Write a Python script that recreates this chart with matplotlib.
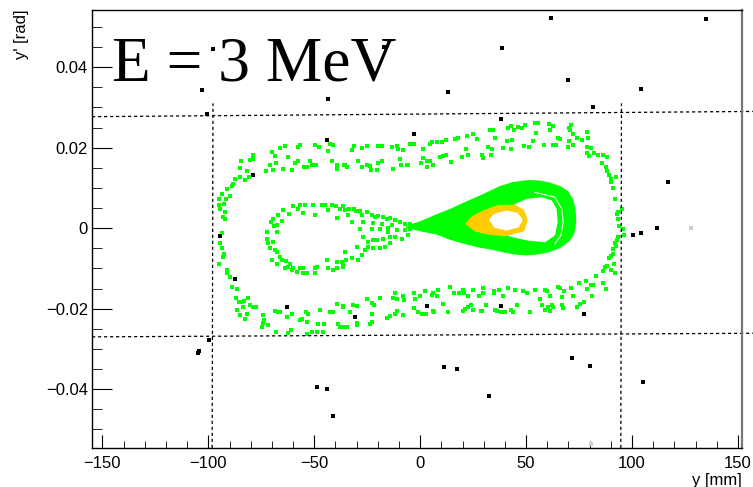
import numpy as np
import matplotlib
matplotlib.use("Agg")
import matplotlib.pyplot as plt

# y [mm], y' [rad]
# sparse green points: outer ring around the separatrix
ring = np.array([
    (-79.0, 0.0183), (-80.3, 0.0170), (-78.7, 0.0172), (-84.6, 0.0166), (-85.0, 0.0149), (-81.9, 0.0141),
    (-80.6, 0.0127), (-82.7, 0.0119), (-85.0, 0.0127), (-87.4, 0.0121), (-88.2, 0.0110), (-89.0, 0.0105),
    (-91.3, 0.0098), (-89.7, 0.0081), (-91.6, 0.0073), (-93.7, 0.0086), (-94.9, 0.0072), (-92.6, 0.0061),
    (-94.5, 0.0048), (-92.1, 0.0040), (-92.9, 0.0028), (-92.1, 0.0022), (-94.8, 0.0057),
    (-66.2, 0.0200), (-63.8, 0.0203), (-70.1, 0.0189), (-68.5, 0.0179), (-62.5, 0.0177), (-70.9, 0.0158),
    (-68.0, 0.0162), (-72.9, 0.0141), (-69.6, 0.0145), (-64.6, 0.0148), (-57.5, 0.0201), (-56.7, 0.0207),
    (-49.6, 0.0207), (-47.6, 0.0201), (-42.6, 0.0210), (-41.0, 0.0207), (-43.3, 0.0191), (-41.8, 0.0167),
    (-39.4, 0.0148), (-39.1, 0.0158), (-52.0, 0.0168), (-51.2, 0.0158), (-49.2, 0.0156), (-54.8, 0.0153),
    (-53.6, 0.0152), (-59.1, 0.0162), (-57.5, 0.0167), (-60.6, 0.0144), (-35.9, 0.0158),
    (-31.2, 0.0204), (-32.3, 0.0193), (-27.6, 0.0200), (-25.3, 0.0203), (-19.8, 0.0204), (-18.2, 0.0204),
    (-13.5, 0.0201), (-11.1, 0.0203), (-10.3, 0.0197), (-8.0, 0.0193), (-4.8, 0.0210), (-2.9, 0.0210),
    (1.5, 0.0196), (4.6, 0.0210), (5.4, 0.0214), (8.1, 0.0214), (10.1, 0.0215), (12.2, 0.0220),
    (16.4, 0.0222), (18.0, 0.0225), (22.2, 0.0228), (25.1, 0.0233), (26.6, 0.0222), (21.6, 0.0196),
    (-35.5, 0.0158), (-34.4, 0.0152), (-29.2, 0.0167), (-27.6, 0.0152), (-25.3, 0.0158), (-23.7, 0.0154),
    (-23.4, 0.0144), (-20.5, 0.0144), (-20.1, 0.0162), (-17.9, 0.0167), (-12.7, 0.0146), (-9.5, 0.0172),
    (-9.1, 0.0158), (-6.4, 0.0158), (-5.6, 0.0158), (0.2, 0.0162), (1.5, 0.0175), (3.4, 0.0168),
    (4.6, 0.0167), (3.0, 0.0153), (5.9, 0.0156), (9.3, 0.0177), (10.9, 0.0179), (12.2, 0.0181),
    (14.5, 0.0164), (19.6, 0.0178), (22.7, 0.0181), (29.0, 0.0183), (29.8, 0.0175),
    (32.9, 0.0245), (34.2, 0.0245), (35.3, 0.0225), (41.6, 0.0249), (42.7, 0.0254), (44.4, 0.0245),
    (46.0, 0.0251), (47.9, 0.0249), (49.7, 0.0257), (54.2, 0.0262), (55.7, 0.0261), (54.6, 0.0237),
    (60.8, 0.0259), (62.8, 0.0254), (61.5, 0.0243), (65.2, 0.0225), (65.9, 0.0222), (70.2, 0.0249),
    (71.0, 0.0257), (70.7, 0.0244), (71.9, 0.0233), (73.8, 0.0225), (76.2, 0.0220), (78.9, 0.0240),
    (79.3, 0.0225),
    (32.1, 0.0201), (33.7, 0.0196), (33.2, 0.0181), (39.2, 0.0199), (41.1, 0.0216), (43.1, 0.0220),
    (42.7, 0.0196), (49.1, 0.0204), (51.5, 0.0201), (53.1, 0.0216), (58.6, 0.0207), (62.5, 0.0207),
    (64.1, 0.0207), (69.6, 0.0201), (70.2, 0.0216), (72.2, 0.0207), (78.9, 0.0201), (80.6, 0.0199),
    (78.5, 0.0187), (79.6, 0.0179), (82.0, 0.0187), (84.0, 0.0183), (86.1, 0.0183), (88.4, 0.0177),
    (85.6, 0.0162), (87.7, 0.0152), (88.4, 0.0141), (89.2, 0.0131), (89.9, 0.0123), (90.3, 0.0115),
    (92.4, 0.0127), (90.8, 0.0101), (91.9, 0.0073), (95.1, 0.0048), (93.5, 0.0040), (93.0, 0.0034),
    (93.5, 0.0022), (94.0, 0.0005), (95.8, -0.0001), (29.0, 0.0181), (29.5, 0.0174),
    (-93.7, -0.0011), (-94.5, -0.0038), (-93.7, -0.0050), (-92.6, -0.0063), (-93.2, -0.0071), (-94.8, -0.0088),
    (-91.3, -0.0104), (-91.0, -0.0112), (-89.7, -0.0121), (-89.0, -0.0146), (-86.6, -0.0151), (-87.1, -0.0173),
    (-85.3, -0.0183), (-84.2, -0.0184), (-83.1, -0.0181), (-81.1, -0.0173), (-80.3, -0.0191), (-78.7, -0.0195),
    (-77.5, -0.0195), (-83.8, -0.0195), (-86.6, -0.0203), (-85.0, -0.0216), (-81.9, -0.0212), (-82.7, -0.0226),
    (-74.0, -0.0216), (-73.7, -0.0228), (-74.0, -0.0236), (-71.6, -0.0241), (-74.8, -0.0245), (-68.5, -0.0206),
    (-66.9, -0.0209), (-66.2, -0.0209), (-62.7, -0.0220), (-60.6, -0.0212), (-56.7, -0.0228), (-55.9, -0.0226),
    (-53.9, -0.0209), (-52.8, -0.0212), (-53.6, -0.0232), (-68.0, -0.0259), (-62.2, -0.0261), (-61.1, -0.0253),
    (-53.6, -0.0264), (-51.2, -0.0259), (-48.8, -0.0259), (-48.1, -0.0239), (-47.3, -0.0203), (-45.4, -0.0239),
    (-45.7, -0.0257), (-42.6, -0.0209), (-41.3, -0.0209), (-39.4, -0.0189), (-36.6, -0.0195), (-38.6, -0.0237),
    (-37.8, -0.0245),
    (-36.6, -0.0193), (-31.6, -0.0191), (-29.7, -0.0193), (-25.0, -0.0176), (-22.9, -0.0187), (-21.8, -0.0191),
    (-19.0, -0.0173), (-12.7, -0.0173), (-11.9, -0.0160), (-10.8, -0.0176), (-8.0, -0.0168), (-7.6, -0.0179),
    (-2.9, -0.0162), (-2.5, -0.0176), (-0.1, -0.0168), (2.3, -0.0156), (5.4, -0.0166), (6.2, -0.0162),
    (8.1, -0.0168), (8.6, -0.0154), (10.9, -0.0189), (14.1, -0.0146), (16.0, -0.0160), (18.5, -0.0162),
    (20.4, -0.0154), (20.7, -0.0160), (22.7, -0.0168), (24.8, -0.0154), (27.9, -0.0168), (29.5, -0.0148),
    (29.5, -0.0162), (-33.1, -0.0209), (-22.9, -0.0212), (-15.8, -0.0222), (-14.3, -0.0217), (-11.9, -0.0212),
    (-10.8, -0.0206), (-8.0, -0.0216), (-2.9, -0.0199), (-0.9, -0.0209), (0.7, -0.0212), (2.7, -0.0212),
    (5.9, -0.0206), (6.5, -0.0209), (13.3, -0.0208), (20.4, -0.0206), (21.1, -0.0201), (22.7, -0.0195),
    (23.8, -0.0191), (25.1, -0.0203), (29.0, -0.0206), (-36.3, -0.0245), (-34.4, -0.0245), (-30.0, -0.0235),
    (-29.7, -0.0241), (-23.7, -0.0237), (-22.9, -0.0232),
    (34.8, -0.0156), (34.8, -0.0162), (37.3, -0.0154), (38.9, -0.0168), (41.6, -0.0148), (44.7, -0.0154),
    (48.6, -0.0156), (50.2, -0.0162), (54.2, -0.0154), (56.5, -0.0176), (58.9, -0.0154), (61.2, -0.0168),
    (59.7, -0.0156), (65.2, -0.0146), (65.9, -0.0148), (66.7, -0.0170), (67.8, -0.0156), (71.0, -0.0148),
    (71.9, -0.0168), (75.1, -0.0137), (78.2, -0.0132), (78.9, -0.0151), (80.4, -0.0140), (81.4, -0.0140),
    (80.9, -0.0168), (82.9, -0.0118), (86.1, -0.0137), (87.7, -0.0150), (86.4, -0.0107), (87.2, -0.0096),
    (88.3, -0.0093), (89.9, -0.0104), (91.9, -0.0112), (91.4, -0.0088), (89.2, -0.0075), (90.3, -0.0069),
    (91.1, -0.0063), (90.8, -0.0052), (92.4, -0.0044), (92.1, -0.0038), (93.0, -0.0030), (93.5, -0.0022),
    (94.0, 0.0006), (96.2, -0.0016),
    (31.0, -0.0191), (35.3, -0.0203), (36.4, -0.0206), (38.0, -0.0209), (40.0, -0.0209), (42.7, -0.0203),
    (43.9, -0.0208), (45.5, -0.0191), (51.8, -0.0209), (57.3, -0.0191), (58.9, -0.0203), (60.4, -0.0195),
    (61.2, -0.0206), (62.0, -0.0191), (62.8, -0.0195), (67.2, -0.0198), (66.7, -0.0191), (73.8, -0.0195),
    (75.4, -0.0189), (77.3, -0.0183), (28.7, -0.0206),
])

# sparse green points: left lobe of the figure eight
lobe = np.array([
    (-69.3, 0.0024), (-66.9, 0.0032), (-70.4, 0.0015), (-65.4, 0.0017), (-67.7, 0.0007), (-64.6, 0.0044),
    (-61.7, 0.0034), (-59.9, 0.0055), (-57.8, 0.0048), (-56.7, 0.0057), (-54.3, 0.0058), (-55.1, 0.0038),
    (-50.4, 0.0058), (-49.6, 0.0032), (-46.5, 0.0057), (-44.9, 0.0057), (-43.3, 0.0044), (-41.8, 0.0057),
    (-39.9, 0.0055), (-39.4, 0.0026), (-37.8, 0.0047), (-36.3, 0.0055),
    (-36.6, 0.0055), (-35.5, 0.0044), (-33.4, 0.0047), (-31.2, 0.0047), (-30.3, 0.0042), (-28.4, 0.0042),
    (-33.9, 0.0032), (-32.3, 0.0015), (-27.6, 0.0032), (-26.8, 0.0015), (-25.3, 0.0039), (-22.9, 0.0032),
    (-21.3, 0.0028), (-19.8, 0.0030), (-22.1, 0.0013), (-17.4, 0.0028), (-15.8, 0.0024), (-14.3, 0.0026),
    (-18.2, 0.0011), (-13.5, 0.0007), (-11.9, 0.0020), (-9.5, 0.0015), (-7.2, 0.0011), (-4.8, 0.0011),
    (-2.5, 0.0007), (-0.1, 0.0009), (-28.4, -0.0001), (-22.9, -0.0001), (-19.0, -0.0001), (-15.0, -0.0001),
    (-72.4, -0.0009), (-69.0, 0.0006), (-67.7, -0.0009), (-72.4, -0.0026), (-71.6, -0.0038), (-69.6, -0.0034),
    (-70.9, -0.0050), (-68.5, -0.0055), (-67.7, -0.0060), (-70.1, -0.0079), (-66.2, -0.0071), (-65.4, -0.0079),
    (-67.4, -0.0090), (-63.3, -0.0082), (-63.8, -0.0100), (-62.2, -0.0096), (-61.4, -0.0090), (-59.9, -0.0100),
    (-60.6, -0.0104), (-58.3, -0.0110), (-56.7, -0.0100), (-55.4, -0.0098), (-55.1, -0.0112), (-53.2, -0.0111),
    (-49.6, -0.0100), (-49.6, -0.0112), (-48.8, -0.0096), (-44.1, -0.0079), (-43.3, -0.0098), (-41.0, -0.0104),
    (-39.4, -0.0098), (-39.1, -0.0085), (-36.3, -0.0092), (-35.0, -0.0079),
    (-28.4, -0.0001), (-19.0, -0.0002), (-15.0, 0.0001), (-27.2, -0.0021), (-24.5, -0.0034), (-22.1, -0.0030),
    (-20.2, -0.0030), (-17.4, -0.0026), (-14.3, -0.0021), (-11.9, -0.0021), (-8.7, -0.0026), (-5.6, -0.0017),
    (-24.5, -0.0046), (-30.0, -0.0046), (-22.1, -0.0050), (-26.1, -0.0055), (-27.6, -0.0067), (-29.2, -0.0079),
    (-32.3, -0.0075), (-35.5, -0.0060), (-37.1, -0.0083), (-36.3, -0.0096), (-19.0, -0.0050), (-16.6, -0.0046),
    (-14.3, -0.0038), (-15.0, -0.0009), (-11.1, -0.0005), (-7.2, -0.0005), (-4.8, -0.0001),
])

# outline of the dense right lobe
dense_lobe = np.array([
    (-6.4, 0.0003), (0.7, 0.0016), (7.8, 0.0032), (14.1, 0.0045), (21.9, 0.0064), (30.6, 0.0084),
    (37.7, 0.0102), (43.8, 0.0112), (50.9, 0.0117), (56.0, 0.0116), (61.0, 0.0111), (66.0, 0.0102),
    (69.5, 0.0090), (71.8, 0.0070), (72.9, 0.0045), (73.2, 0.0015), (72.3, -0.0012), (70.2, -0.0030),
    (66.5, -0.0045), (61.0, -0.0057), (55.0, -0.0063), (50.0, -0.0065), (45.0, -0.0063), (40.8, -0.0059),
    (32.9, -0.0050), (28.2, -0.0046), (21.9, -0.0038), (14.1, -0.0026), (7.8, -0.0013), (-0.1, -0.0005),
])
lobe_hole = np.array([
    (44.7, 0.0060), (50.3, 0.0073), (57.3, 0.0077), (62.1, 0.0069), (64.4, 0.0048), (64.9, 0.0015),
    (63.6, -0.0018), (58.9, -0.0035), (51.0, -0.0031), (43.2, -0.0022), (37.7, -0.0012),
])
gap_arc = np.array([
    (54.2, 0.0089), (63.6, 0.0077), (66.8, 0.0048), (67.5, 0.0015), (66.4, -0.0018), (63.6, -0.0039),
])
# orange core
core = np.array([
    (21.9, 0.0011), (24.4, 0.0027), (29.0, 0.0040), (36.9, 0.0056), (44.7, 0.0056), (48.7, 0.0044),
    (50.3, 0.0019), (48.7, -0.0006), (40.0, -0.0018), (32.1, -0.0014), (25.9, -0.0006),
])
core_hole = np.array([
    (32.5, 0.0021), (35.0, 0.0036), (40.8, 0.0044), (46.0, 0.0038), (48.5, 0.0021), (46.5, 0.0002),
    (40.8, -0.0006), (35.0, 0.0001),
])

# lost particles
lost = np.array([
    (-97.6, 0.0446), (-102.8, 0.0344), (-100.5, 0.0283), (-43.6, 0.0321), (-43.8, 0.0220), (-79.0, 0.0133),
    (-94.5, -0.0020), (-17.0, 0.0451), (61.7, 0.0523), (134.9, 0.0520), (38.7, 0.0448), (69.6, 0.0367),
    (13.3, 0.0338), (104.2, 0.0346), (81.7, 0.0301), (38.1, 0.0272), (-3.0, 0.0234), (116.8, 0.0115),
    (100.3, -0.0017), (104.2, -0.0012), (111.9, 0.0001), (-87.2, -0.0127), (-63.0, -0.0197), (-30.6, -0.0220),
    (-99.5, -0.0278), (-104.4, -0.0305), (-105.0, -0.0309), (-48.8, -0.0394), (-44.1, -0.0399), (-41.0, -0.0466),
    (3.4, -0.0193), (38.2, -0.0193), (77.3, -0.0212), (11.2, -0.0344), (17.2, -0.0350), (32.6, -0.0416),
    (71.8, -0.0323), (80.1, -0.0342), (105.3, -0.0381),
])
faint = np.array([(127.8, 0.0001), (80.5, -0.0536)])

# acceptance cuts (dashed)
cut_top = ([-154.9, 157.0], [0.0277, 0.0290])
cut_bot = ([-154.9, 157.0], [-0.0270, -0.0261])
cut_left = ([-98.2, -97.8], [-0.0546, 0.0310])
cut_right = ([94.7, 95.0], [-0.0546, 0.0310])

xticks = [-150, -100, -50, 0, 50, 100, 150]
xtick_labels = ['\u2212150', '\u2212100', '\u221250', '0', '50', '100', '150']
yticks = [-0.04, -0.02, 0, 0.02, 0.04]
ytick_labels = ['\u22120.04', '\u22120.02', '0', '0.02', '0.04']

GREEN = '#00ff00'
ORANGE = '#ffcc00'

plt.rcParams['font.family'] = ['Liberation Sans', 'DejaVu Sans']

fig = plt.figure(figsize=(7.53, 4.87), dpi=100)
ax = fig.add_axes([0.1222, 0.0801, 0.8632, 0.8994])

ms = 2.5
ax.plot(ring[:, 0], ring[:, 1], 's', color=GREEN, ms=ms, mew=0)
ax.plot(lobe[:, 0], lobe[:, 1], 's', color=GREEN, ms=ms, mew=0)
ax.fill(dense_lobe[:, 0], dense_lobe[:, 1], color=GREEN, lw=1.5)
ax.fill(lobe_hole[:, 0], lobe_hole[:, 1], color='white', lw=0)
ax.plot(gap_arc[:, 0], gap_arc[:, 1], color='white', lw=0.8)
ax.fill(core[:, 0], core[:, 1], color=ORANGE, lw=1.2)
ax.fill(core_hole[:, 0], core_hole[:, 1], color='white', lw=0)
ax.plot(lost[:, 0], lost[:, 1], 's', color='black', ms=ms, mew=0)
ax.plot(faint[:, 0], faint[:, 1], 's', color='#cccccc', ms=ms, mew=0)

for xs, ys in (cut_top, cut_bot, cut_left, cut_right):
    ax.plot(xs, ys, color='black', lw=0.9, ls=(0, (2.6, 2.2)), clip_on=False)

ax.set_xlim(-154.9, 151.9)
ax.set_ylim(-0.0546, 0.0542)
ax.set_xticks(xticks)
ax.set_xticklabels(xtick_labels)
ax.set_yticks(yticks)
ax.set_yticklabels(ytick_labels)
ax.set_xticks(np.arange(-150, 151, 10), minor=True)
ax.set_yticks(np.arange(-0.05, 0.0501, 0.005), minor=True)

ax.tick_params(which='both', direction='in', top=False, right=False, labelsize=12, colors='black')
ax.xaxis.set_tick_params(which='major', length=9.5, pad=5.5)
ax.xaxis.set_tick_params(which='minor', length=5)
ax.yaxis.set_tick_params(which='major', length=14.5, pad=3)
ax.yaxis.set_tick_params(which='minor', length=7.2)

for s in ('left', 'bottom', 'top'):
    ax.spines[s].set_linewidth(1)
ax.spines['right'].set_color('#777777')
ax.spines['right'].set_linewidth(1.6)

ax.text(1.0, -0.057, 'y [mm]', transform=ax.transAxes, ha='right', va='top', fontsize=12)
ax.text(-0.108, 1.0, "y' [rad]", transform=ax.transAxes, ha='center', va='top', rotation=90, fontsize=12)
ax.text(0.030, 0.840, 'E = 3 MeV', transform=ax.transAxes, ha='left', va='baseline',
        fontsize=45.6, family='Liberation Serif')

fig.savefig('out.png', dpi=100)
